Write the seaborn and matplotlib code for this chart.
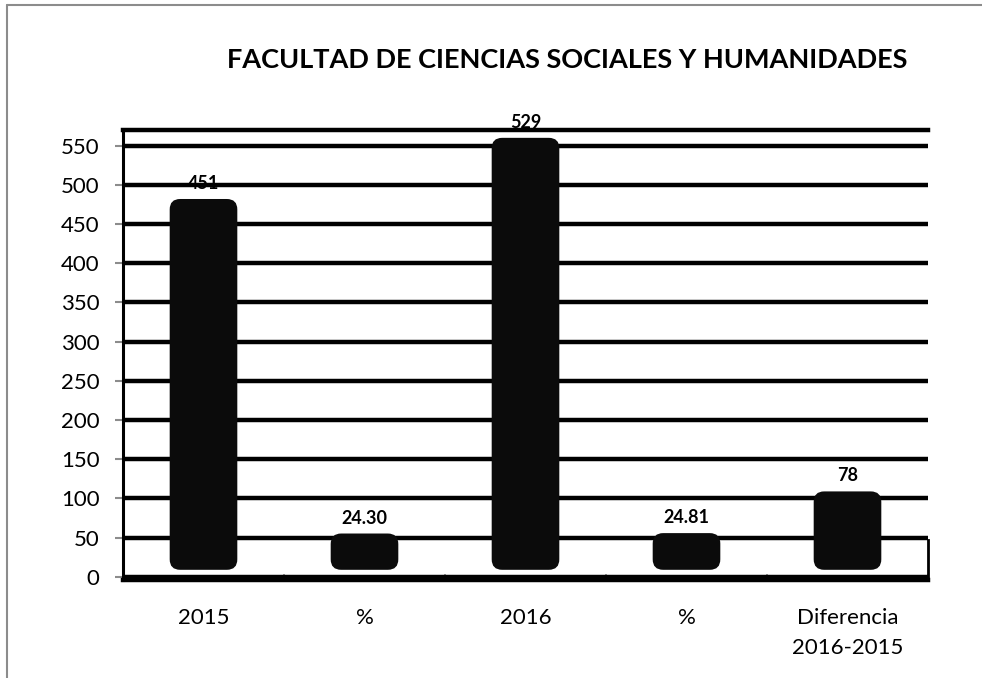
import matplotlib
matplotlib.use("Agg")
import matplotlib.pyplot as plt
import pandas as pd
import seaborn as sns
from matplotlib.lines import Line2D
from matplotlib.patches import FancyBboxPatch

# chart data
title = "FACULTAD DE CIENCIAS SOCIALES Y HUMANIDADES"
categories = ["2015", "%", "2016", "%", "Diferencia\n2016-2015"]
values = [451, 24.30, 529, 24.81, 78]
value_labels = ["451", "24.30", "529", "24.81", "78"]
y_ticks = list(range(0, 551, 50))

# pseudo-3D look of the original (cylinders lifted off the floor)
FLOOR = 9
DEPTH = 31
BAR_COLOR = "#0b0b0b"

sns.set_theme(style="white")
plt.rcParams["font.family"] = ["Lato", "DejaVu Sans"]

W, H = 982, 678
fig = plt.figure(figsize=(W / 100, H / 100), dpi=100)
ax_left, ax_right, ax_top, ax_bottom = 123, 928, 130, 580
ax = fig.add_axes([ax_left / W, (H - ax_bottom) / H,
                   (ax_right - ax_left) / W, (ax_bottom - ax_top) / H])

df = pd.DataFrame({"slot": list(range(len(values))), "value": values})
sns.barplot(data=df, x="slot", y="value", color=BAR_COLOR, saturation=1,
            width=0.42, ax=ax, zorder=3)

ax.set_xlim(-0.5, len(values) - 0.5)
ax.set_ylim(-4, 570)

# lift the bars to fake the 3D depth
for rect in ax.containers[0]:
    h = rect.get_height()
    rect.set_y(FLOOR)
    rect.set_height(h + DEPTH - FLOOR)

ax.bar_label(ax.containers[0], labels=value_labels, padding=5,
             fontsize=13, fontweight="bold", color="black", zorder=5)

# rounded cylinder caps
px_x = (ax_right - ax_left) / len(values)
px_y = (ax_bottom - ax_top) / (570 + 4)
aspect = px_x / px_y
for rect in ax.containers[0]:
    cyl = FancyBboxPatch((rect.get_x(), rect.get_y()), rect.get_width(), rect.get_height(),
                         boxstyle="round,pad=0,rounding_size=0.065",
                         mutation_aspect=aspect, fc=BAR_COLOR, ec="none", zorder=4)
    ax.add_patch(cyl)
    rect.set_visible(False)

# grid + frame
ax.set_yticks(y_ticks)
ax.yaxis.grid(True, color="black", linewidth=3.2)
ax.set_axisbelow(True)
for side in ["top", "bottom"]:
    ax.spines[side].set_color("black")
    ax.spines[side].set_linewidth(3.2)
ax.spines["left"].set_color("black")
ax.spines["left"].set_linewidth(2.2)
ax.spines["right"].set_color("black")
ax.spines["right"].set_linewidth(2)
ax.spines["right"].set_bounds(-4, 47)

ax.tick_params(axis="y", direction="out", length=6, width=1.5, color="#8c8c8c",
               labelsize=16, pad=11, labelcolor="black", left=True)
ax.set_xticks(range(len(values)))
ax.set_xticklabels(categories)
ax.set_xticks([i - 0.5 for i in range(len(values) + 1)], minor=True)
ax.tick_params(axis="x", which="major", length=0, labelsize=16, pad=20, labelcolor="black")
ax.tick_params(axis="x", which="minor", direction="in", length=4, width=1.2,
               color="#8c8c8c", bottom=True)
for lbl in ax.get_xticklabels():
    lbl.set_linespacing(1.65)
ax.set_xlabel("")
ax.set_ylabel("")

fig.text(567 / W, 1 - 60 / H, title, ha="center", va="center",
         fontsize=19.5, fontweight="bold", color="black")

# outer chart border (visible on top and left)
fig.add_artist(Line2D([7 / W, 7 / W], [0, 1 - 5 / H], color="#8c8c8c", lw=1.5))
fig.add_artist(Line2D([7 / W, 1], [1 - 5 / H, 1 - 5 / H], color="#8c8c8c", lw=1.5))

fig.savefig("out.png", dpi=100, facecolor="white")
